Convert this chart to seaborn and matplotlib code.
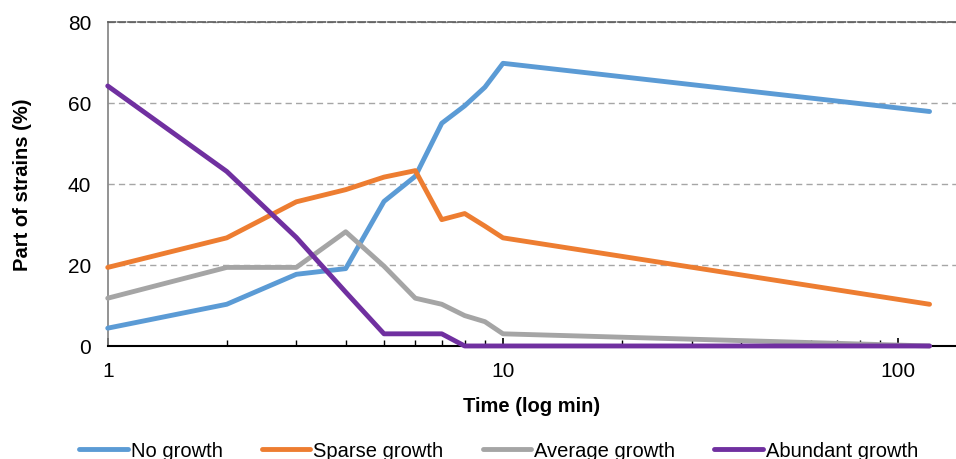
import matplotlib
matplotlib.use("Agg")
import matplotlib.pyplot as plt
import matplotlib.ticker as mticker
import seaborn as sns
import pandas as pd

# Sampling times (minutes) and share of strains per growth class (%)
times = [1, 2, 3, 4, 5, 6, 7, 8, 9, 10, 120]
no_growth = [4.4, 10.3, 17.7, 19.1, 35.7, 41.9, 55.0, 59.3, 63.9, 69.8, 57.9]
sparse_growth = [19.4, 26.7, 35.6, 38.6, 41.7, 43.3, 31.2, 32.7, 29.6, 26.7, 10.3]
average_growth = [11.8, 19.4, 19.4, 28.2, 19.7, 11.8, 10.3, 7.5, 6.0, 3.0, 0.0]
abundant_growth = [64.2, 43.1, 26.8, 13.3, 3.0, 3.0, 3.0, 0.0, 0.0, 0.0, 0.0]

series_names = ["No growth", "Sparse growth", "Average growth", "Abundant growth"]
series_colors = ["#5B9BD5", "#ED7D31", "#A5A5A5", "#7030A0"]
y_ticks = [0, 20, 40, 60, 80]

frames = []
for name, vals in zip(series_names,
                      [no_growth, sparse_growth, average_growth, abundant_growth]):
    frames.append(pd.DataFrame({"Time": times, "Share": vals, "Growth": name}))
df = pd.concat(frames, ignore_index=True)

sns.set_theme(style="white")
plt.rcParams["font.family"] = ["Liberation Sans", "DejaVu Sans"]
plt.rcParams["text.color"] = "black"
plt.rcParams["axes.labelcolor"] = "black"

fig = plt.figure(figsize=(9.56, 4.60), dpi=100)
ax = fig.add_axes([0.1127, 0.2457, 0.8873, 0.7043])

sns.lineplot(data=df, x="Time", y="Share", hue="Growth", hue_order=series_names,
             palette=series_colors, linewidth=3.5, estimator=None, sort=False,
             ax=ax, legend=False, zorder=3, clip_on=False)
for ln in ax.get_lines():
    ln.set_solid_capstyle("round")
    ln.set_solid_joinstyle("round")

ax.set_xscale("log")
ax.set_xlim(1, 140)
ax.set_ylim(0, 80)
ax.set_yticks(y_ticks)
ax.xaxis.set_major_locator(mticker.FixedLocator([1, 10, 100]))
ax.xaxis.set_major_formatter(mticker.FixedFormatter(["1", "10", "100"]))
ax.xaxis.set_minor_locator(mticker.LogLocator(base=10, subs=range(2, 10)))
ax.xaxis.set_minor_formatter(mticker.NullFormatter())

ax.tick_params(axis="x", which="major", direction="in", length=6, width=1.2,
               color="black", bottom=True, labelsize=15, pad=11, labelcolor="black")
ax.tick_params(axis="x", which="minor", direction="in", length=4, width=1.0,
               color="black", bottom=True)
ax.tick_params(axis="y", length=0, labelsize=15, pad=12, labelcolor="black")

# Dashed horizontal gridlines
ax.yaxis.grid(True, linestyle=(0, (4.5, 3)), color="#A6A6A6", linewidth=1.0)
ax.xaxis.grid(False)
ax.set_axisbelow(True)

for side in ["left", "bottom", "top"]:
    ax.spines[side].set_visible(True)
ax.spines["right"].set_visible(False)
ax.spines["bottom"].set_color("black")
ax.spines["bottom"].set_linewidth(1.5)
ax.spines["left"].set_color("#808080")
ax.spines["left"].set_linewidth(1.2)
ax.spines["top"].set_color("#595959")
ax.spines["top"].set_linewidth(1.2)
ax.spines["top"].set_linestyle((0, (4.5, 1.5)))

ax.set_xlabel("Time (log min)", fontsize=14.5, fontweight="bold", labelpad=11,
              color="black")
ax.set_ylabel("Part of strains (%)", fontsize=14.5, fontweight="bold", labelpad=26,
              color="black")

handles = [plt.Line2D([], [], color=c, linewidth=3.5, solid_capstyle="round")
           for c in series_colors]
leg = fig.legend(handles, series_names, loc="center", bbox_to_anchor=(0.5215, 0.0174),
                 ncol=4, frameon=False, fontsize=14.5, handlelength=2.4,
                 handletextpad=0.15, columnspacing=1.95)
for t in leg.get_texts():
    t.set_color("black")

fig.savefig("out.png", dpi=100)
